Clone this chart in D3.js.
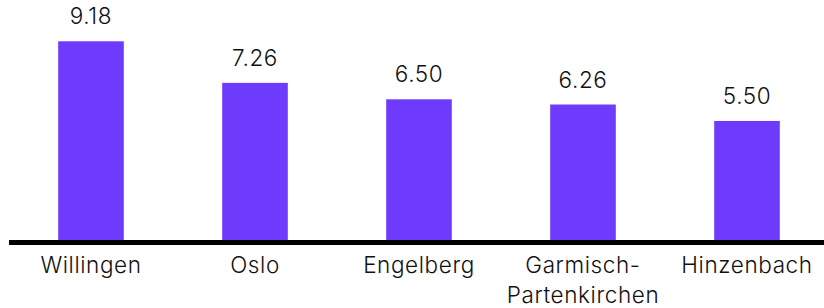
<!DOCTYPE html>
<html>
<head>
<meta charset="utf-8">
<script src="https://cdn.jsdelivr.net/npm/d3@7"></script>
<style>
    body { margin: 0; background: #fff; }
    svg { display: block; font-family: Inter, sans-serif; font-weight: 300; letter-spacing: 0.6px; }
</style>
</head>
<body>
<div id="chart"></div>
<script>
const places = ["Willingen", "Oslo", "Engelberg", "Garmisch-Partenkirchen", "Hinzenbach"];
const values = [9.18, 7.26, 6.50, 6.26, 5.50];
const labelLines = [["Willingen"], ["Oslo"], ["Engelberg"], ["Garmisch-", "Partenkirchen"], ["Hinzenbach"]];

const width = 824;
const height = 308;
const baseY = 240;

const svg = d3.select("#chart")
    .append("svg")
    .attr("width", width)
    .attr("height", height);

const x = d3.scaleBand()
    .domain(places)
    .range([9, 829])
    .paddingInner(0.6)
    .paddingOuter(0.3);

const y = d3.scaleLinear()
    .domain([0, 9.18])
    .range([baseY, 41.3]);

const data = places.map(function(p, i) {
    return { place: p, value: values[i], lines: labelLines[i] };
});

// bars
svg.selectAll("rect.bar")
    .data(data)
    .enter()
    .append("rect")
    .attr("class", "bar")
    .attr("x", function(d) { return x(d.place); })
    .attr("y", function(d) { return y(d.value); })
    .attr("width", x.bandwidth())
    .attr("height", function(d) { return baseY - y(d.value); })
    .attr("fill", "#6e3afc");

// value labels
svg.selectAll("text.value")
    .data(data)
    .enter()
    .append("text")
    .attr("class", "value")
    .attr("x", function(d) { return x(d.place) + x.bandwidth() / 2; })
    .attr("y", function(d) { return y(d.value) - 17; })
    .attr("text-anchor", "middle")
    .attr("font-size", 22.5)
    .attr("fill", "#111")
    .text(function(d) { return d.value.toFixed(2); });

// baseline
svg.append("line")
    .attr("x1", 9)
    .attr("x2", width)
    .attr("y1", baseY + 2.5)
    .attr("y2", baseY + 2.5)
    .attr("stroke", "#000")
    .attr("stroke-width", 5);

// category labels
const cats = svg.selectAll("text.cat")
    .data(data)
    .enter()
    .append("text")
    .attr("class", "cat")
    .attr("text-anchor", "middle")
    .attr("font-size", 22.5)
    .attr("fill", "#111");

cats.selectAll("tspan")
    .data(function(d) {
        return d.lines.map(function(l) { return { line: l, cx: x(d.place) + x.bandwidth() / 2 }; });
    })
    .enter()
    .append("tspan")
    .attr("x", function(d) { return d.cx; })
    .attr("y", function(d, i) { return 273.3 + i * 30; })
    .text(function(d) { return d.line; });
</script>
</body>
</html>
